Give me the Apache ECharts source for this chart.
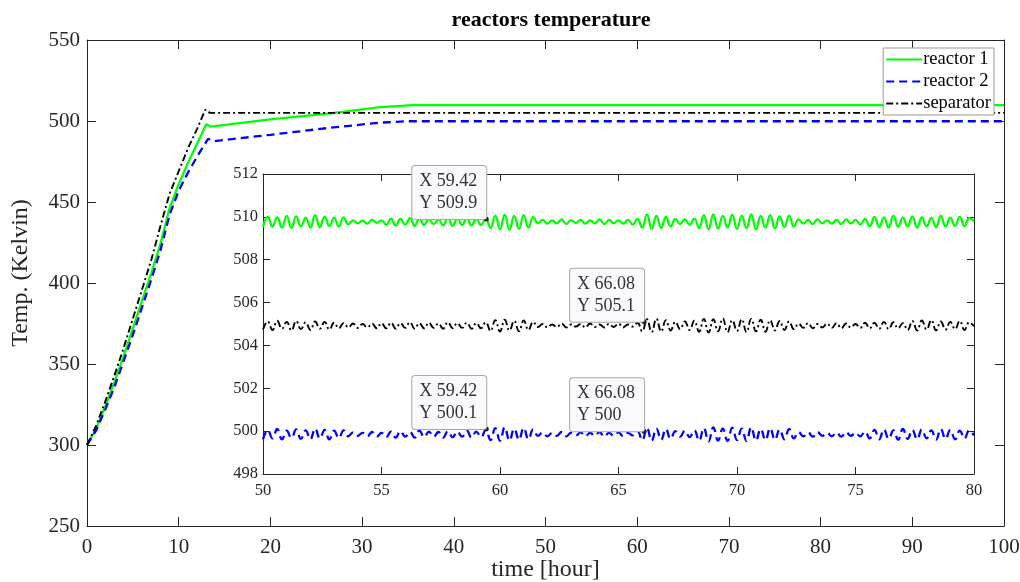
<!DOCTYPE html>
<html>
<head>
<meta charset="utf-8">
<script src="https://cdn.jsdelivr.net/npm/echarts@6/dist/echarts.min.js"></script>
<style>html,body{margin:0;padding:0;background:#fff}#c{width:1020px;height:582px}</style>
</head>
<body>
<div id="c"></div>
<script>
// ---- main plot data (time [hour], temperature [K]) ----
const r1MainT = [0, 1, 2, 3, 4, 5, 6, 7, 8, 9, 10, 11, 12, 13, 13.5, 20, 26.5, 32, 35.5, 100];
const r1MainV = [300, 310, 324, 339, 355, 372, 389, 406, 424, 446, 461, 474, 486, 498, 496.5, 501, 504.7, 508.6, 509.8, 509.8];
const r2MainT = [0, 1, 2, 3, 4, 5, 6, 7, 8, 9, 10, 11, 12, 13.2, 13.8, 20, 26.5, 32, 35, 100];
const r2MainV = [300, 309, 322, 336, 352, 368, 385, 402, 420, 442, 457, 468, 478, 489, 487.5, 491.5, 495.8, 499, 499.85, 499.85];
const sepMainT = [0, 1, 2, 3, 4, 5, 6, 7, 8, 9, 10, 11, 12, 12.9, 13.4, 100];
const sepMainV = [300, 312, 327, 343, 360, 378, 396, 414, 435, 455, 469, 483, 495, 507, 505, 505];

// ---- inset data: samples from t = 50 to 80, every 0.2 h ----
const insetStart = 50, insetStep = 0.2;
const r1Inset = [
509.52,510.00,509.55,509.98,509.50,510.05,509.48,510.02,509.55,509.95,509.50,510.08,509.52,510.00,509.58,509.96,509.55,509.98,
509.66,509.84,509.70,509.82,509.68,509.86,509.72,509.84,
509.62,509.92,509.60,509.90,509.64,509.94,509.58,509.92,509.62,509.90,509.66,509.88,509.60,509.95,509.58,509.92,509.62,509.94,509.60,509.90,509.62,509.92,
509.48,510.06,509.42,510.10,509.40,510.05,509.45,510.08,509.50,510.00,
509.70,509.86,509.68,509.84,509.70,509.88,509.66,509.85,509.72,509.86,509.68,509.84,509.70,509.88,509.66,509.86,509.70,509.84,509.68,509.86,509.64,509.90,
509.50,510.12,509.44,510.05,509.48,510.00,509.55,
509.90,509.66,509.88,509.64,509.92,
509.48,510.08,509.42,510.12,509.45,510.05,509.50,510.10,509.44,510.06,509.48,510.12,509.42,510.04,509.50,510.08,509.46,510.02,509.52,510.06,509.55,
509.88,509.68,509.86,509.66,509.88,509.70,509.84,509.68,509.86,509.66,509.88,509.70,509.86,509.64,509.90,
509.56,510.00,509.52,509.98,509.50,510.06,509.54,509.96,509.56,510.02,509.50,509.98,509.56,509.95,509.52,510.04,509.55,509.96,509.58,510.00,509.56,509.94,509.80
];
const sepInset = [
504.75,505.12,504.72,505.15,504.78,505.10,504.70,505.14,504.76,505.08,504.72,505.12,504.78,505.10,504.74,505.06,504.80,505.04,
504.84,505.02,504.82,505.00,504.84,505.02,504.80,505.04,
504.80,505.06,504.78,505.04,504.82,505.08,504.78,505.04,504.80,505.06,504.82,505.02,504.78,505.08,504.80,505.04,504.82,505.06,504.78,505.04,504.80,505.08,
504.68,505.18,504.65,505.20,504.70,505.15,504.66,505.16,504.72,505.10,
504.86,505.00,504.84,504.98,504.86,505.02,504.84,504.98,504.88,505.00,504.84,505.02,504.86,504.98,504.84,505.00,504.86,505.02,504.84,504.98,504.88,505.06,
504.66,505.22,504.62,505.25,504.65,505.18,504.70,
505.10,504.76,505.12,504.72,505.15,
504.64,505.24,504.60,505.22,504.66,505.26,504.62,505.18,504.68,505.22,504.62,505.24,504.66,505.20,504.64,505.18,504.70,505.14,504.72,505.12,504.76,
505.02,504.82,505.04,504.80,505.00,504.84,505.02,504.82,505.04,504.80,505.02,504.84,505.00,504.82,505.06,
504.80,505.06,504.78,505.10,504.76,505.08,504.80,505.04,504.72,505.14,504.70,505.16,504.74,505.18,504.70,505.12,504.74,505.10,504.76,505.14,504.72,505.08,504.90
];
const r2Inset = [
499.62,500.05,499.66,500.10,499.62,500.02,499.68,500.08,499.64,500.04,499.62,500.12,499.66,500.06,499.62,500.02,499.68,500.04,
499.76,499.94,499.78,499.92,499.76,499.96,499.74,499.92,
499.72,499.98,499.70,500.00,499.74,499.96,499.70,500.02,499.72,499.98,499.74,499.96,499.70,500.00,499.72,499.98,499.74,500.02,499.70,499.98,499.72,500.06,
499.58,500.14,499.55,500.18,499.56,500.12,499.60,500.15,499.62,500.08,
499.78,499.94,499.76,499.92,499.78,499.96,499.76,499.92,499.80,499.94,499.76,499.92,499.78,499.96,499.74,499.92,499.78,499.94,499.76,499.92,499.80,500.00,
499.58,500.15,499.55,500.12,499.60,500.10,499.64,
500.00,499.74,500.02,499.72,500.04,
499.56,500.14,499.52,500.18,499.56,500.12,499.54,500.16,499.58,500.12,499.54,500.18,499.56,500.10,499.58,500.14,499.60,500.08,499.62,500.10,499.66,
499.96,499.76,499.94,499.74,499.96,499.78,499.92,499.76,499.94,499.74,499.96,499.78,499.92,499.76,499.98,
499.66,500.06,499.62,500.08,499.64,500.04,499.60,500.10,499.64,500.06,499.62,500.08,499.66,500.04,499.60,500.10,499.64,500.06,499.62,500.02,499.66,500.04,499.80
];

// ---- data tips ----
const tipX = [59.42, 66.08, 59.42, 66.08];
const tipY = [509.9, 505.1, 500.1, 500];
const tipSeries = ['reactor 1', 'separator', 'reactor 2', 'reactor 2'];

// ---- axes ticks ----
const mainXTicks = {min: 0, max: 100, interval: 10};
const mainYTicks = {min: 250, max: 550, interval: 50};
const insetXTicks = {min: 50, max: 80, interval: 5};
const insetYTicks = {min: 498, max: 512, interval: 2};

const names = ['reactor 1', 'reactor 2', 'separator'];
const FONT = 'Liberation Serif';
const AX = '#262626';

function pairs(t, v) { return t.map((x, i) => [x, v[i]]); }
function insetPairs(v) { return v.map((y, i) => [+(insetStart + i * insetStep).toFixed(2), y]); }

function tipsFor(name) {
  const out = [];
  tipSeries.forEach((s, i) => {
    if (s === name) out.push({coord: [tipX[i], tipY[i]], tipText: 'X ' + tipX[i] + '\nY ' + tipY[i]});
  });
  return out;
}

const styles = {
  'reactor 1': {color: '#00ff00', width: 2.3, type: 'solid'},
  'reactor 2': {color: '#0000ff', width: 2.3, type: [8, 5]},
  'separator': {color: '#000000', width: 1.9, type: [7, 3, 2, 3]}
};

function ax(grid, pos, r, showLabel, tickLen, fs, extra) {
  return Object.assign({
    type: 'value', gridIndex: grid, position: pos, min: r.min, max: r.max, interval: r.interval,
    axisLine: {show: true, onZero: false, lineStyle: {color: AX, width: 1}},
    axisTick: {show: true, inside: true, length: tickLen, lineStyle: {color: AX}},
    axisLabel: {show: showLabel, fontFamily: FONT, fontSize: fs, color: AX, margin: 8},
    splitLine: {show: false}
  }, extra || {});
}

const mainSeries = [
  [r1MainT, r1MainV, 'reactor 1'],
  [r2MainT, r2MainV, 'reactor 2'],
  [sepMainT, sepMainV, 'separator']
].map(([t, v, n]) => ({
  type: 'line', name: n, xAxisIndex: 0, yAxisIndex: 0, data: pairs(t, v),
  symbol: 'none', showSymbol: false, lineStyle: styles[n], itemStyle: {color: styles[n].color},
  animation: false, z: 3
}));

const TIP_W = 60, TIP_PAD = [4, 7, 5, 7], TIP_LH = 22;
const insetSeries = [
  [r1Inset, 'reactor 1'], [r2Inset, 'reactor 2'], [sepInset, 'separator']
].map(([v, n]) => ({
  type: 'line', name: n, xAxisIndex: 2, yAxisIndex: 2, data: insetPairs(v),
  symbol: 'none', showSymbol: false, smooth: 0.45, lineStyle: styles[n], itemStyle: {color: styles[n].color},
  animation: false, z: 3,
  markPoint: {
    symbol: 'circle', symbolSize: 5, animation: false,
    itemStyle: {color: '#222', borderWidth: 0},
    label: {
      show: true, position: [2.5, 2.5], align: 'left', verticalAlign: 'top',
      offset: [-(TIP_W + TIP_PAD[1] + TIP_PAD[3]), -(2 * TIP_LH + TIP_PAD[0] + TIP_PAD[2])],
      width: TIP_W,
      formatter: p => p.data.tipText,
      fontFamily: FONT, fontSize: 18, lineHeight: TIP_LH, color: '#333',
      backgroundColor: '#f9f9fe', borderColor: '#a8a8a8', borderWidth: 1, borderRadius: 3,
      padding: TIP_PAD
    },
    data: tipsFor(n)
  }
}));

const option = {
  backgroundColor: '#fff',
  animation: false,
  title: {
    text: 'reactors temperature', left: 546, top: 4, textAlign: 'center',
    textStyle: {fontFamily: FONT, fontSize: 22, fontWeight: 'bold', color: '#000'}
  },
  legend: {
    data: names, orient: 'vertical', right: 26, top: 48,
    itemWidth: 36, itemHeight: 18, itemGap: 3,
    padding: [2, 3, 2, 2],
    itemStyle: {opacity: 0},
    backgroundColor: '#fff', borderColor: '#9a9a9a', borderWidth: 1,
    textStyle: {fontFamily: FONT, fontSize: 18.5, color: '#000', padding: [0, 0, 0, -4]}
  },
  grid: [
    {left: 87, top: 40, width: 917, height: 486, show: false, outerBoundsMode: 'none', containLabel: false},
    {left: 263, top: 174, width: 711, height: 300, show: true, backgroundColor: '#fff', borderWidth: 0,
     outerBoundsMode: 'none', containLabel: false}
  ],
  xAxis: [
    ax(0, 'bottom', mainXTicks, true, 9, 21, {name: 'time [hour]', nameLocation: 'middle', nameGap: 32,
      nameMoveOverlap: false,
      nameTextStyle: {fontFamily: FONT, fontSize: 24, color: AX}}),
    ax(0, 'top', mainXTicks, false, 9, 21),
    ax(1, 'bottom', insetXTicks, true, 7, 16.5),
    ax(1, 'top', insetXTicks, false, 7, 16.5)
  ],
  yAxis: [
    ax(0, 'left', mainYTicks, true, 9, 21, {name: 'Temp. (Kelvin)', nameLocation: 'middle', nameGap: 54,
      nameMoveOverlap: false,
      nameTextStyle: {fontFamily: FONT, fontSize: 24, color: AX, padding: [0, 0, 0, 20]}}),
    ax(0, 'right', mainYTicks, false, 9, 21),
    ax(1, 'left', insetYTicks, true, 7, 16.5),
    ax(1, 'right', insetYTicks, false, 7, 16.5)
  ],
  series: mainSeries.concat(insetSeries)
};
option.xAxis[0].axisLabel.margin = 11;
option.yAxis[0].axisLabel.margin = 7;
option.yAxis[2].axisLabel.margin = 5;

const chart = echarts.init(document.getElementById('c'), null, {renderer: 'canvas'});
chart.setOption(option);
</script>
</body>
</html>
